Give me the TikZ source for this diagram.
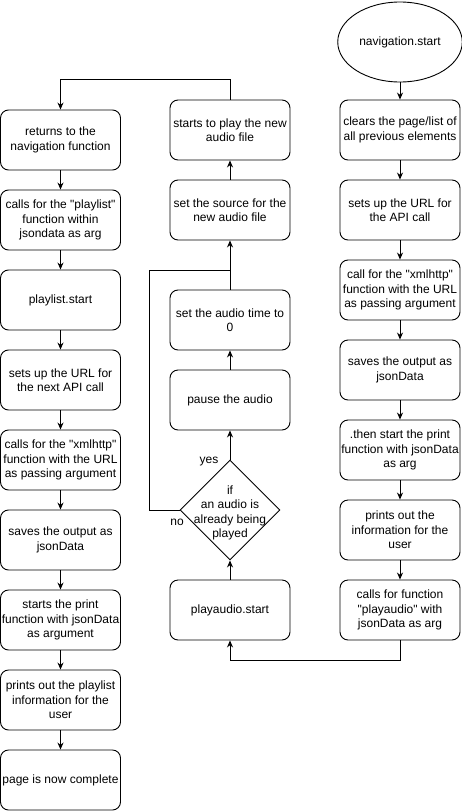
\documentclass[tikz,border=0pt]{standalone}
\usepackage{fontspec}
\setmainfont{Liberation Sans}
\usetikzlibrary{arrows.meta, shapes.geometric}
\newcommand{\dq}{\textquotedbl}

\begin{document}
\begin{tikzpicture}[
  x=1pt, y=-1pt,
  line width=0.9pt,
  every node/.style={font=\fontsize{12}{14.5}\selectfont},
  proc/.style={rectangle, draw, rounded corners=8pt, minimum width=120pt,
    minimum height=60pt, align=center, inner sep=1pt},
  >={Stealth[length=7pt, width=6pt]}
]
  \useasboundingbox (0,0) rectangle (461,811);

  % right column: navigation
  \node[ellipse, draw, minimum width=120pt, minimum height=80pt] (nav) at (400,42) {navigation.start};
  \node[proc] (clear) at (400,130) {clears the page/list of\\all previous elements};
  \node[proc] (url)   at (400,210) {sets up the URL for\\the API call};
  \node[proc] (xhr)   at (400,290) {call for the \dq xmlhttp\dq\\function with the URL\\as passing argument};
  \node[proc] (save)  at (400,370) {saves the output as\\jsonData};
  \node[proc] (then)  at (400,450) {.then start the print\\function with jsonData\\as arg};
  \node[proc] (print) at (400,530) {prints out the\\information for the\\user};
  \node[proc] (callp) at (400,610) {calls for function\\\dq playaudio\dq{} with\\jsonData as arg};

  % middle column: playaudio
  \node[proc] (pstart) at (230,610) {playaudio.start};
  \node[diamond, draw, minimum width=100pt, minimum height=100pt, inner sep=0pt] (chk) at (230,510) {};
  \node[align=center] (chktext) at (230,513) {if\\an audio is\\already being\\played};
  \node[proc] (pause) at (230,400) {pause the audio};
  \node[proc] (time)  at (230,320) {set the audio time to\\0};
  \node[proc] (src)   at (230,210) {set the source for the\\new audio file};
  \node[proc] (play)  at (230,130) {starts to play the new\\audio file};
  \node (yes) at (209,462) {yes};
  \node (no)  at (177,522) {no};
  \coordinate (join) at (230,270);

  % left column: playlist
  \node[proc] (ret)    at (60.5,140) {returns to the\\navigation function};
  \node[proc] (callpl) at (60.5,220) {calls for the \dq playlist\dq\\function within\\jsondata as arg};
  \node[proc] (lstart) at (60.5,300) {playlist.start};
  \node[proc] (lurl)   at (60.5,380) {sets up the URL for\\the next API call};
  \node[proc] (lxhr)   at (60.5,460) {calls for the \dq xmlhttp\dq\\function with the URL\\as passing argument};
  \node[proc] (lsave)  at (60.5,540) {saves the output as\\jsonData};
  \node[proc] (lprint) at (60.5,620) {starts the print\\function with jsonData\\as argument};
  \node[proc] (linfo)  at (60.5,700) {prints out the playlist\\information for the\\user};
  \node[proc] (done)   at (60.5,780) {page is now complete};

  % connectors
  \draw[->] (nav) -- (clear);
  \draw[->] (clear) -- (url);
  \draw[->] (url) -- (xhr);
  \draw[->] (xhr) -- (save);
  \draw[->] (save) -- (then);
  \draw[->] (then) -- (print);
  \draw[->] (print) -- (callp);
  \draw[->] (callp.south) -- ++(0,20) -| (pstart.south);

  \draw[->] (pstart) -- (chk.south);
  \draw[->] (chk.north) -- (pause);
  \draw[->] (pause) -- (time);
  \draw[->] (time) -- (src);
  \draw (chk.west) -- ++(-30,0) |- (join);
  \draw[->] (src) -- (play);
  \draw[->] (play.north) -- ++(0,-20) -| (ret.north);

  \draw[->] (ret) -- (callpl);
  \draw[->] (callpl) -- (lstart);
  \draw[->] (lstart) -- (lurl);
  \draw[->] (lurl) -- (lxhr);
  \draw[->] (lxhr) -- (lsave);
  \draw[->] (lsave) -- (lprint);
  \draw[->] (lprint) -- (linfo);
  \draw[->] (linfo) -- (done);
\end{tikzpicture}
\end{document}
